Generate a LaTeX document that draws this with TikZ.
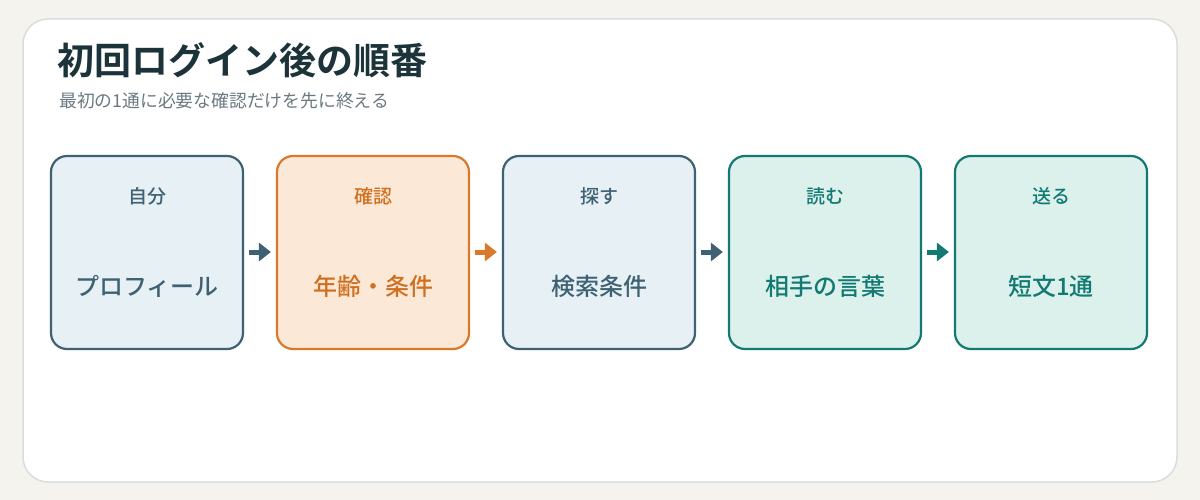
\documentclass[tikz,border=0pt]{standalone}
\usepackage{fontspec}
\setmainfont{Noto Sans CJK JP}[BoldFont={Noto Sans CJK JP Bold}]
\newfontfamily\medfont{Noto Sans CJK JP Medium}
\usetikzlibrary{arrows.meta}
\definecolor{bgc}{HTML}{F4F3EE}
\definecolor{cardline}{HTML}{D8DEDC}
\definecolor{titlec}{HTML}{1D333A}
\definecolor{subc}{HTML}{6B7A80}
\definecolor{slateL}{HTML}{3E6273}
\definecolor{slateF}{HTML}{E7F0F5}
\definecolor{orgL}{HTML}{D9792B}
\definecolor{orgF}{HTML}{FCE8D7}
\definecolor{orgT}{HTML}{D0701F}
\definecolor{tealL}{HTML}{137A73}
\definecolor{tealF}{HTML}{DDF1EC}
\tikzset{
  stepbox/.style={draw, line width=2.2pt, rounded corners=16pt, minimum width=192pt, minimum height=193pt, inner sep=0pt},
  slatebox/.style={stepbox, draw=slateL, fill=slateF},
  orgbox/.style={stepbox, draw=orgL, fill=orgF},
  tealbox/.style={stepbox, draw=tealL, fill=tealF},
  toplbl/.style={font=\medfont\fontsize{19pt}{22pt}\selectfont},
  mainlbl/.style={font=\medfont\fontsize{24pt}{28pt}\selectfont},
  flow/.style={line width=5pt, -{Triangle[length=12pt 0,width=18pt 0]}, shorten <=5pt, shorten >=5pt}
}
\begin{document}
\begin{tikzpicture}[x=1pt,y=-1pt]
\useasboundingbox (0,0) rectangle (1200,500);
\fill[bgc] (0,0) rectangle (1200,500);
\draw[cardline, fill=white, line width=1.5pt, rounded corners=25pt] (23,19) rectangle (1177,482);
\node[anchor=west, text=titlec, font=\bfseries\fontsize{37pt}{42pt}\selectfont, inner sep=0pt] (title) at (57,60) {初回ログイン後の順番};
\node[anchor=west, text=subc, font=\fontsize{17.8pt}{21pt}\selectfont, inner sep=0pt] (sub) at (59,101) {最初の1通に必要な確認だけを先に終える};
% boxes
\node[slatebox] (b1) at (147,252.5) {};
\node[orgbox] (b2) at (373,252.5) {};
\node[slatebox] (b3) at (599,252.5) {};
\node[tealbox] (b4) at (825,252.5) {};
\node[tealbox] (b5) at (1051,252.5) {};
% labels
\node[toplbl, text=slateL] (t1) at (147,196) {自分};
\node[mainlbl, text=slateL] (m1) at (147,286) {プロフィール};
\node[toplbl, text=orgT] (t2) at (373,196) {確認};
\node[mainlbl, text=orgT] (m2) at (373,286) {年齢・条件};
\node[toplbl, text=slateL] (t3) at (599,196) {探す};
\node[mainlbl, text=slateL] (m3) at (599,286) {検索条件};
\node[toplbl, text=tealL] (t4) at (825,196) {読む};
\node[mainlbl, text=tealL] (m4) at (825,286) {相手の言葉};
\node[toplbl, text=tealL] (t5) at (1051,196) {送る};
\node[mainlbl, text=tealL] (m5) at (1051,286) {短文1通};
% arrows
\draw[flow, slateL] (b1.east |- 0,252) -- (b2.west |- 0,252);
\draw[flow, orgL] (b2.east |- 0,252) -- (b3.west |- 0,252);
\draw[flow, slateL] (b3.east |- 0,252) -- (b4.west |- 0,252);
\draw[flow, tealL] (b4.east |- 0,252) -- (b5.west |- 0,252);
\end{tikzpicture}
\end{document}
